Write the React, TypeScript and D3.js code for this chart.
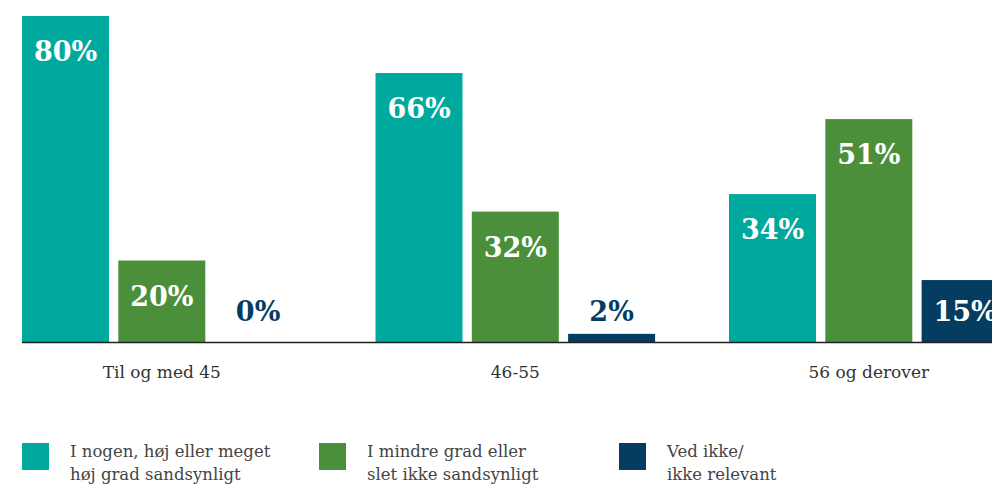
import React from "react";
import * as d3 from "d3";

const categories = ["Til og med 45", "46-55", "56 og derover"];
const seriesNames = ["I nogen, høj eller meget|høj grad sandsynligt", "I mindre grad eller|slet ikke sandsynligt", "Ved ikke/|ikke relevant"];
// bar heights as drawn in the picture
const seriesA = [80, 66, 36.3];
const seriesB = [20, 32, 54.7];
const seriesC = [0, 2, 15.2];
// printed value labels
const labelsA = ["80%", "66%", "34%"];
const labelsB = ["20%", "32%", "51%"];
const labelsC = ["0%", "2%", "15%"];
const colors = ["#00a99d", "#4c8f3b", "#043d5f"];

const W = 992;
const H = 486;
const FONT = "'DejaVu Serif', Georgia, serif";

export default function App() {
  const series = [seriesA, seriesB, seriesC];
  const labels = [labelsA, labelsB, labelsC];
  const baseY = 342;
  const y = d3.scaleLinear().domain([0, 80]).range([baseY, 16]);
  const x0 = d3.scaleBand<string>().domain(categories).range([22, 22 + 3 * 353.5]).padding(0);
  const x1 = d3.scaleBand<number>().domain([0, 1, 2]).range([0, 279.6]).paddingInner(0.0966).paddingOuter(0);
  const legendX = [22, 319, 619];

  return (
    <svg width={W} height={H} style={{ position: "absolute", left: 0, top: 0, background: "#fff" }} fontFamily={FONT}>
      {categories.map((c, gi) => (
        <g key={c}>
          {series.map((s, si) => {
            const v = s[gi];
            const bx = (x0(c) as number) + (x1(si) as number);
            const bw = x1.bandwidth();
            const top = y(v);
            const inside = v >= 5;
            const ly = Math.min(top + 45, 321);
            return (
              <g key={si}>
                {v > 0 && <rect x={bx} y={top} width={bw} height={baseY - top} fill={colors[si]} />}
                <text x={bx + bw / 2} y={ly} textAnchor="middle" fontWeight="bold" fontSize={27} fill={inside ? "#fff" : colors[si]}>
                  {labels[si][gi]}
                </text>
              </g>
            );
          })}
          <text x={(x0(c) as number) + 279.6 / 2} y={378} textAnchor="middle" fontSize={17} fill="#333">{c}</text>
        </g>
      ))}
      <line x1={22} x2={W} y1={baseY + 0.5} y2={baseY + 0.5} stroke="#222" strokeWidth={1.5} />
      {seriesNames.map((n, i) => (
        <g key={i}>
          <rect x={legendX[i]} y={443} width={27} height={27} fill={colors[i]} />
          {n.split("|").map((line, li) => (
            <text key={li} x={legendX[i] + 48} y={457 + li * 23} fontSize={16.5} fill="#444">{line}</text>
          ))}
        </g>
      ))}
    </svg>
  );
}
